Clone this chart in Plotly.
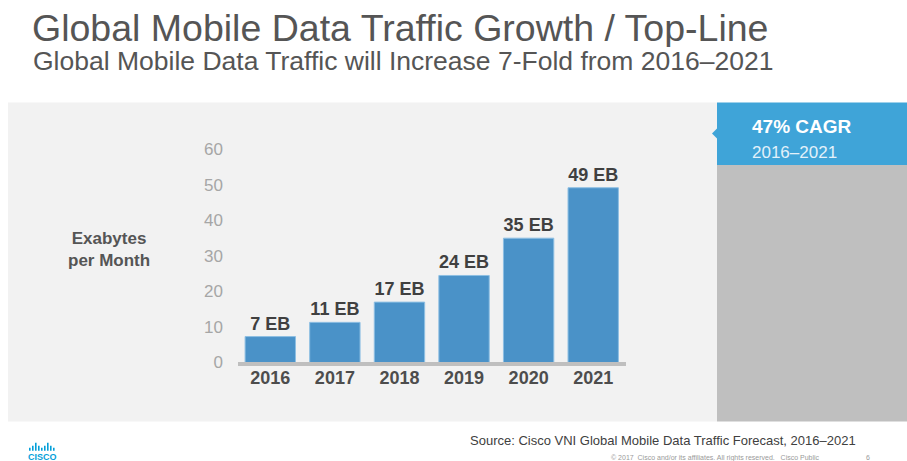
import plotly.graph_objects as go

# ---- data ----
years = ["2016", "2017", "2018", "2019", "2020", "2021"]
traffic_eb = [7.3, 11.3, 17.0, 24.5, 35.0, 49.2]
bar_labels = ["7 EB", "11 EB", "17 EB", "24 EB", "35 EB", "49 EB"]
y_ticks = [0, 10, 20, 30, 40, 50, 60]

title = "Global Mobile Data Traffic Growth / Top-Line"
subtitle = "Global Mobile Data Traffic will Increase 7-Fold from 2016\u20132021"
axis_title = "Exabytes<br>per Month"
cagr_main = "47% CAGR"
cagr_sub = "2016\u20132021"
source = "Source: Cisco VNI Global Mobile Data Traffic Forecast, 2016\u20132021"
copyright_txt = "\u00a9 2017  Cisco and/or its affiliates. All rights reserved.   Cisco Public"
page_no = "6"

W, H = 907, 481
FONT = "Liberation Sans, Arial, Helvetica, sans-serif"


def px(x):
    return x / W


def py(y):
    # y given in target-picture pixels; compensate observed vertical mapping
    ys = (y - 8.2) / 0.9586
    return 1 - ys / H


fig = go.Figure()
fig.add_trace(go.Bar(
    x=years, y=traffic_eb,
    text=bar_labels, textposition="outside", cliponaxis=False,
    textfont=dict(family=FONT, size=18, color="#404040", weight="bold"),
    marker=dict(color="#4a92c8", line=dict(color="#8dbfe3", width=1)),
    hoverinfo="skip",
))

shapes = [
    dict(type="rect", xref="paper", yref="paper", x0=px(8), x1=px(717), y0=py(420), y1=py(101.5),
         fillcolor="#f2f2f2", line=dict(width=0), layer="below"),
    dict(type="rect", xref="paper", yref="paper", x0=px(717), x1=1, y0=py(420), y1=py(164),
         fillcolor="#bfbfbf", line=dict(width=0), layer="below"),
    dict(type="rect", xref="paper", yref="paper", x0=px(717), x1=1, y0=py(164), y1=py(101.5),
         fillcolor="#3fa4d8", line=dict(width=0), layer="below"),
    dict(type="path", xref="paper", yref="paper",
         path=f"M {px(717.5)} {py(127)} L {px(712)} {py(132.5)} L {px(717.5)} {py(138)} Z",
         fillcolor="#3fa4d8", line=dict(width=0), layer="below"),
]

logo_bars = [(29, 3), (32, 5), (35, 8), (38, 5), (41, 3), (44, 5), (47, 8), (50, 5), (53, 3)]
for xb, hb in logo_bars:
    shapes.append(dict(type="rect", xref="paper", yref="paper",
                       x0=px(xb), x1=px(xb + 1.6), y0=py(449), y1=py(449 - hb),
                       fillcolor="#049fd9", line=dict(width=0)))

annotations = [
    dict(text=title, x=px(30), y=py(27), xanchor="left", yanchor="middle", height=38,
         font=dict(family=FONT, size=37.5, color="#555555")),
    dict(text=subtitle, x=px(31), y=py(60), xanchor="left", yanchor="middle", height=26,
         font=dict(family=FONT, size=26.5, color="#555555")),
    dict(text=axis_title, x=px(109), y=py(248), xanchor="center", yanchor="middle",
         font=dict(family=FONT, size=17, color="#555555", weight="bold")),
    dict(text=cagr_main, x=px(750), y=py(125), xanchor="left", yanchor="middle",
         font=dict(family=FONT, size=19, color="#ffffff", weight="bold")),
    dict(text=cagr_sub, x=px(750), y=py(151), xanchor="left", yanchor="middle",
         font=dict(family=FONT, size=17, color="#e3f1fa")),
    dict(text=source, x=px(858), y=py(439), xanchor="right", yanchor="middle",
         font=dict(family=FONT, size=13, color="#404040")),
    dict(text=copyright_txt, x=px(822), y=py(456), xanchor="right", yanchor="middle",
         font=dict(family=FONT, size=7, color="#9a9a9a")),
    dict(text=page_no, x=px(868), y=py(456), xanchor="center", yanchor="middle",
         font=dict(family=FONT, size=7, color="#9a9a9a")),
    dict(text="CISCO", x=px(42.5), y=py(455), xanchor="center", yanchor="middle",
         font=dict(family=FONT, size=9, color="#049fd9", weight="bold")),
]

for a in annotations:
    a.update(xref="paper", yref="paper", showarrow=False)

fig.update_layout(
    width=W, height=H,
    margin=dict(l=0, r=0, t=0, b=0),
    paper_bgcolor="#ffffff", plot_bgcolor="rgba(0,0,0,0)",
    showlegend=False, bargap=0.22,
    shapes=shapes, annotations=annotations,
    xaxis=dict(domain=[px(238), px(625.5)], showgrid=False, zeroline=False,
               showline=True, linecolor="#bfbfbf", linewidth=4,
               ticks="", ticklabelstandoff=-4, fixedrange=True,
               tickfont=dict(family=FONT, size=18, color="#4d4d4d", weight="bold")),
    yaxis=dict(domain=[py(361), py(148.3)], range=[0, 60], tickvals=y_ticks,
               showgrid=False, zeroline=False, showline=False, ticks="",
               ticklabelstandoff=14, fixedrange=True,
               tickfont=dict(family=FONT, size=17, color="#a6a6a6")),
)

fig.write_html(
    "out.html",
    config={"displayModeBar": False, "responsive": False},
    post_script=(
        "document.documentElement.style.margin='0';"
        "document.documentElement.style.padding='0';"
        "document.documentElement.style.overflow='hidden';"
        "document.body.style.margin='0';"
        "document.body.style.padding='0';"
        "document.body.style.overflow='hidden';"
    ),
)
